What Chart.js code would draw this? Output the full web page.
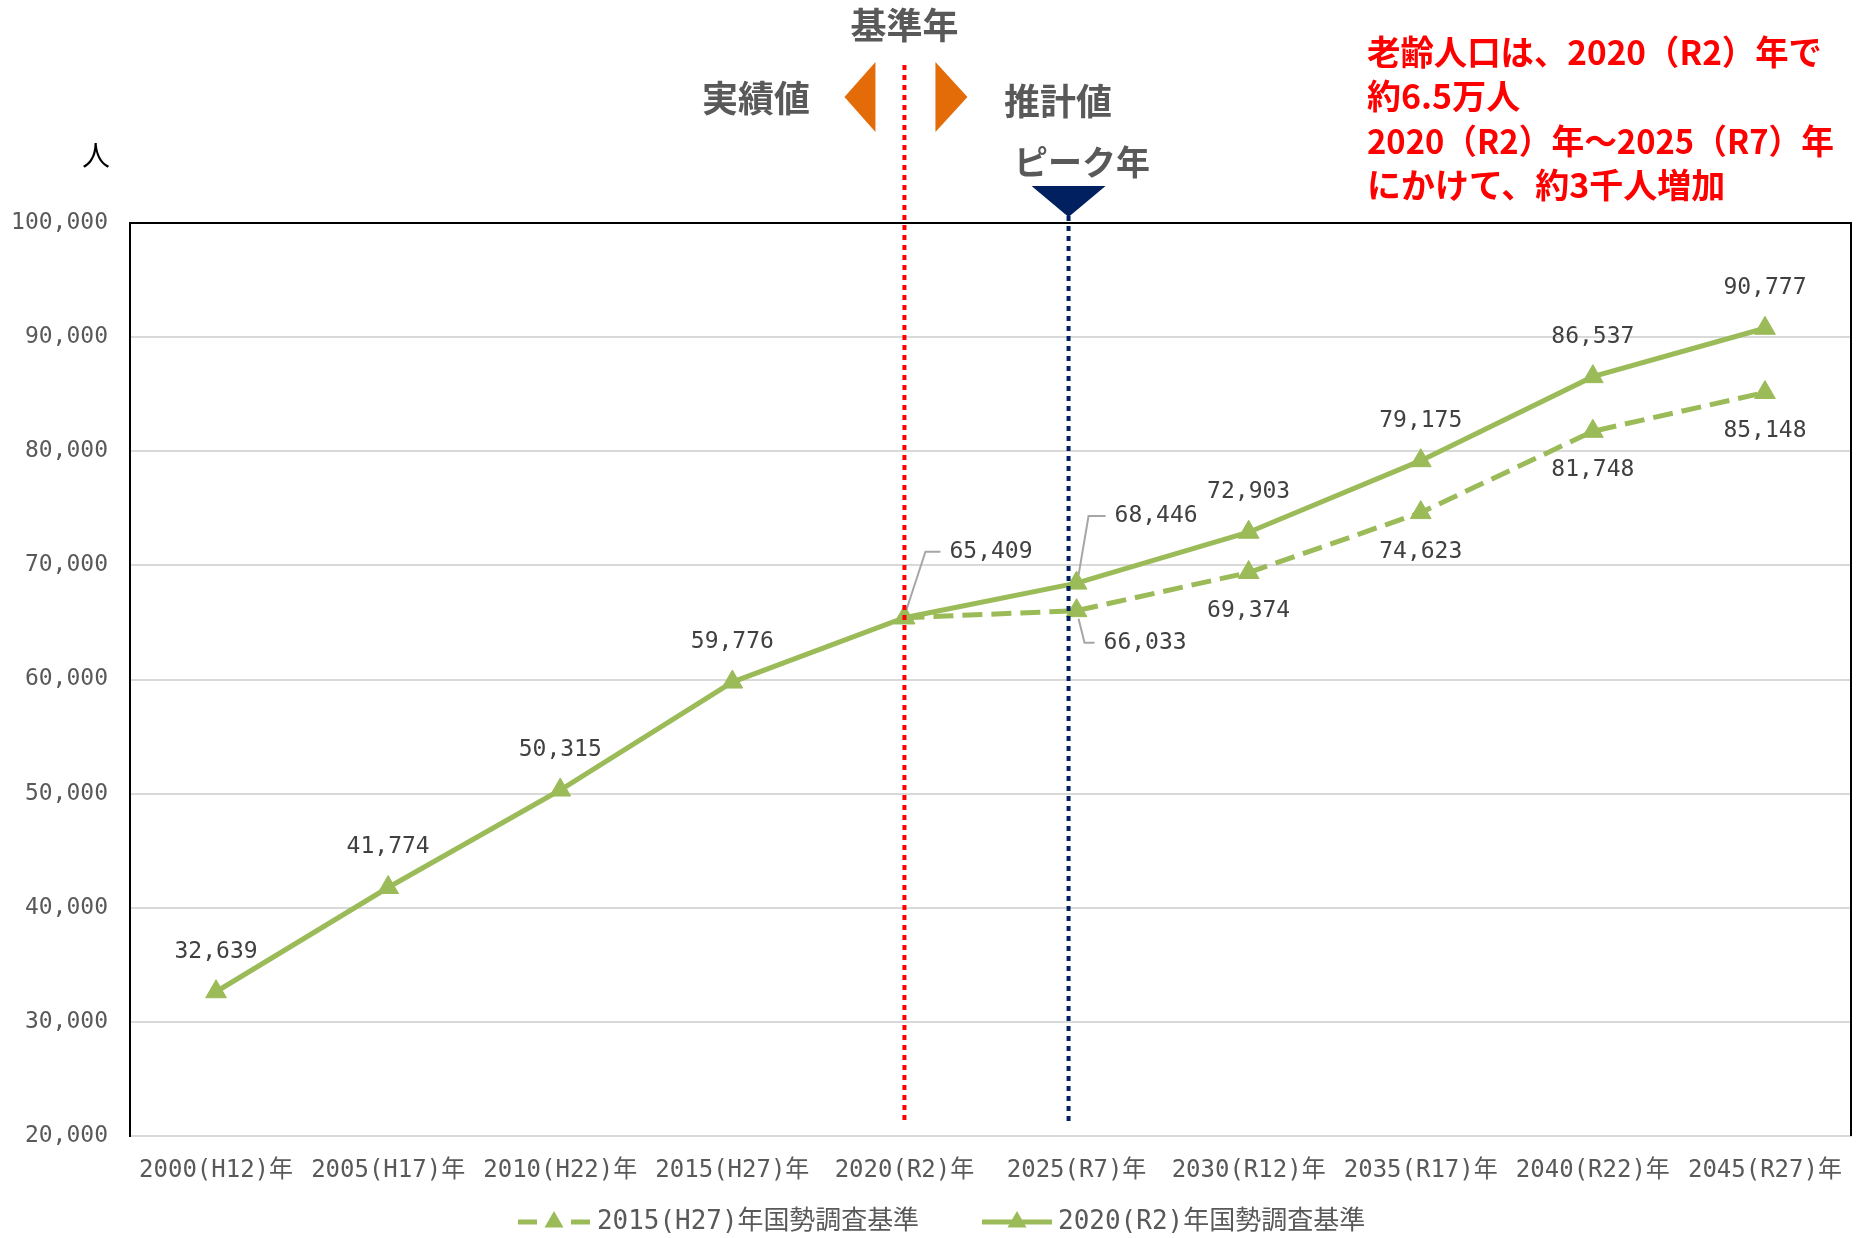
<!DOCTYPE html>
<html lang="ja">
<head>
<meta charset="utf-8">
<title>老齢人口の推移</title>
<script src="https://cdn.jsdelivr.net/npm/chart.js@4.4.1/dist/chart.umd.min.js"></script>
<style>
  html, body { margin: 0; padding: 0; background: #fff; }
  #wrap { width: 1864px; height: 1238px; }
</style>
</head>
<body>
<div id="wrap"><canvas id="chart" width="1864" height="1238"></canvas></div>
<script>
// 年（カテゴリ）
const years = ['2000(H12)年', '2005(H17)年', '2010(H22)年', '2015(H27)年', '2020(R2)年',
               '2025(R7)年', '2030(R12)年', '2035(R17)年', '2040(R22)年', '2045(R27)年'];

// 2020(R2)年国勢調査基準
const base2020 = [32639, 41774, 50315, 59776, 65409, 68446, 72903, 79175, 86537, 90777];

// 2015(H27)年国勢調査基準（2020年以降の推計）
const base2015 = [null, null, null, null, 65409, 66033, 69374, 74623, 81748, 85148];

const seriesNames = ['2015(H27)年国勢調査基準', '2020(R2)年国勢調査基準'];

// 縦軸
const yMin = 20000;
const yMax = 100000;
const yStep = 10000;

const baseYear = '2020(R2)年';
const peakYear = '2025(R7)年';

const noteLines = ['老齢人口は、2020（R2）年で', '約6.5万人', '2020（R2）年～2025（R7）年', 'にかけて、約3千人増加'];


// styles
const GREEN = '#9BBB59';
const GRAY_TXT = '#595959';
const MONO = "'DejaVu Sans Mono', 'Noto Sans CJK JP', monospace";
const JP = "'Noto Sans CJK JP', sans-serif";

// label placement (offset from point)
const labelAbove = -40;
const labelBelow = 39;
const leaders = {
    '1-4': { elbow: [21, -66], end: [36, -66] },
    '1-5': { elbow: [12, -67], end: [29, -67] },
    '0-5': { elbow: [8, 32], end: [18, 32] }
};
const hiddenLabels = ['0-4'];

function fmt(v) {
    return v.toLocaleString('en-US');
}

function triangle(ctx, x, y, r) {
    ctx.beginPath();
    ctx.moveTo(x, y - r);
    ctx.lineTo(x + r * 0.866, y + r * 0.5);
    ctx.lineTo(x - r * 0.866, y + r * 0.5);
    ctx.closePath();
    ctx.fill();
}

const annotations = {
    id: 'annotations',
    afterDraw(chart) {
        const ctx = chart.ctx;
        const area = chart.chartArea;
        const xs = chart.scales.x;

        ctx.save();

        // frame: top + right
        ctx.strokeStyle = '#000';
        ctx.lineWidth = 2;
        ctx.beginPath();
        ctx.moveTo(area.left, area.top);
        ctx.lineTo(area.right, area.top);
        ctx.lineTo(area.right, area.bottom);
        ctx.stroke();

        // data labels
        chart.data.datasets.forEach((ds, di) => {
            const meta = chart.getDatasetMeta(di);
            meta.data.forEach((pt, i) => {
                const v = ds.data[i];
                const key = di + '-' + i;
                if (v === null || hiddenLabels.includes(key)) return;
                ctx.font = '23px ' + MONO;
                ctx.fillStyle = '#404040';
                ctx.textBaseline = 'middle';
                const ld = leaders[key];
                if (ld) {
                    const sy = ld.elbow[1] < 0 ? -8 : 8;
                    ctx.strokeStyle = '#A6A6A6';
                    ctx.lineWidth = 2;
                    ctx.setLineDash([]);
                    ctx.beginPath();
                    ctx.moveTo(pt.x + 2, pt.y + sy);
                    ctx.lineTo(pt.x + ld.elbow[0], pt.y + ld.elbow[1]);
                    ctx.lineTo(pt.x + ld.end[0], pt.y + ld.end[1]);
                    ctx.stroke();
                    ctx.textAlign = 'left';
                    ctx.fillText(fmt(v), pt.x + ld.end[0] + 9, pt.y + ld.end[1]);
                } else {
                    ctx.textAlign = 'center';
                    ctx.fillText(fmt(v), pt.x, pt.y + (di === 1 ? labelAbove : labelBelow));
                }
            });
        });

        // 基準年 line (red dotted)
        const bx = xs.getPixelForValue(years.indexOf(baseYear));
        ctx.strokeStyle = '#FF0000';
        ctx.lineWidth = 4;
        ctx.setLineDash([5, 5]);
        ctx.beginPath();
        ctx.moveTo(bx, 65);
        ctx.lineTo(bx, area.bottom - 13);
        ctx.stroke();

        // ピーク年 line (navy dotted)
        const px = xs.getPixelForValue(years.indexOf(peakYear)) - 8;
        ctx.strokeStyle = '#002060';
        ctx.beginPath();
        ctx.moveTo(px, 216);
        ctx.lineTo(px, area.bottom - 13);
        ctx.stroke();
        ctx.setLineDash([]);

        ctx.fillStyle = '#002060';
        ctx.beginPath();
        ctx.moveTo(px - 37, 186);
        ctx.lineTo(px + 37, 186);
        ctx.lineTo(px, 217);
        ctx.closePath();
        ctx.fill();

        // orange arrows
        ctx.fillStyle = '#E36C09';
        ctx.beginPath();
        ctx.moveTo(bx - 29, 62);
        ctx.lineTo(bx - 29, 132);
        ctx.lineTo(bx - 60, 97);
        ctx.closePath();
        ctx.fill();
        ctx.beginPath();
        ctx.moveTo(bx + 31, 62);
        ctx.lineTo(bx + 31, 132);
        ctx.lineTo(bx + 63, 97);
        ctx.closePath();
        ctx.fill();

        // header texts
        ctx.fillStyle = GRAY_TXT;
        ctx.textAlign = 'center';
        ctx.textBaseline = 'middle';
        ctx.font = 'bold 36px ' + JP;
        ctx.fillText('基準年', bx, 25);
        ctx.fillText('実績値', 756, 98);
        ctx.fillText('推計値', 1058, 101);
        ctx.font = 'bold 34px ' + JP;
        ctx.fillText('ピーク年', 1082, 162);

        // unit
        ctx.fillStyle = '#000';
        ctx.font = '28px ' + JP;
        ctx.fillText('人', 96, 155);

        // red note
        ctx.fillStyle = '#FF0000';
        ctx.textAlign = 'left';
        ctx.font = 'bold 34px ' + JP;
        const noteW = [455, 165, 467, 363];
        noteLines.forEach((t, i) => {
            ctx.fillText(t, 1367, 52 + i * 44.5, noteW[i]);
        });

        // legend
        const ly = 1222;
        ctx.strokeStyle = GREEN;
        ctx.fillStyle = GREEN;
        ctx.lineWidth = 5;
        ctx.beginPath();
        ctx.moveTo(518, ly); ctx.lineTo(537, ly);
        ctx.moveTo(571, ly); ctx.lineTo(590, ly);
        ctx.stroke();
        triangle(ctx, 554, ly, 11);
        ctx.beginPath();
        ctx.moveTo(982, ly); ctx.lineTo(1052, ly);
        ctx.stroke();
        triangle(ctx, 1017, ly, 11);

        ctx.fillStyle = GRAY_TXT;
        ctx.font = '26px ' + MONO;
        ctx.fillText(seriesNames[0], 597, ly, 322);
        ctx.fillText(seriesNames[1], 1058, ly, 310);

        ctx.restore();
    }
};

new Chart(document.getElementById('chart'), {
    type: 'line',
    data: {
        labels: years,
        datasets: [
            {
                label: seriesNames[0],
                data: base2015,
                borderColor: GREEN,
                backgroundColor: GREEN,
                borderWidth: 5,
                borderDash: [20, 9],
                pointStyle: 'triangle',
                pointRadius: 12,
                pointBorderWidth: 1,
                order: 1
            },
            {
                label: seriesNames[1],
                data: base2020,
                borderColor: GREEN,
                backgroundColor: GREEN,
                borderWidth: 5,
                pointStyle: 'triangle',
                pointRadius: 12,
                pointBorderWidth: 1,
                order: 0
            }
        ]
    },
    options: {
        responsive: false,
        animation: false,
        layout: { padding: { top: 223, right: 5, left: 0, bottom: 0 } },
        plugins: {
            legend: { display: false },
            tooltip: { enabled: false }
        },
        scales: {
            x: {
                offset: true,
                grid: { display: false, drawTicks: false },
                border: { color: '#D9D9D9', width: 2 },
                ticks: {
                    color: GRAY_TXT,
                    font: { family: MONO, size: 24, lineHeight: 2.45 },
                    padding: 5,
                    maxRotation: 0,
                    autoSkip: false
                },
                afterFit: s => { s.height = 102; }
            },
            y: {
                min: yMin,
                max: yMax,
                grid: {
                    drawTicks: false,
                    lineWidth: 2,
                    color: c => (c.tick && c.tick.value === yMax) ? '#000' : '#D9D9D9'
                },
                border: { color: '#000', width: 2 },
                ticks: {
                    stepSize: yStep,
                    color: GRAY_TXT,
                    font: { family: MONO, size: 23 },
                    padding: 22,
                    callback: v => fmt(v)
                },
                afterFit: s => { s.width = 130; }
            }
        }
    },
    plugins: [annotations]
});
</script>
</body>
</html>
